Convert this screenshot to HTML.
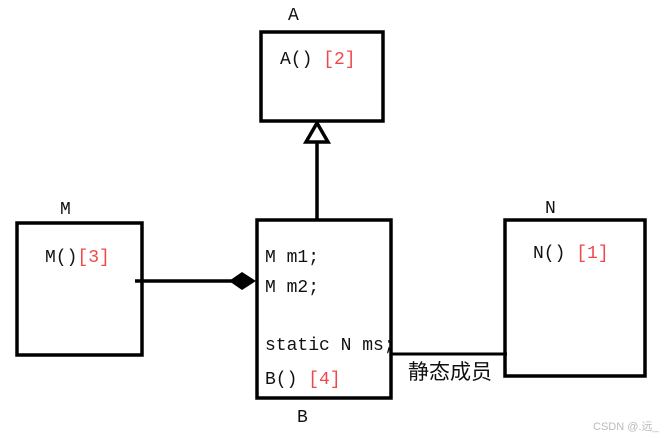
<!DOCTYPE html>
<html><head><meta charset="utf-8"><style>
html,body{margin:0;padding:0;background:#fff;width:670px;height:439px;overflow:hidden}
text{font-family:"Liberation Mono","Noto Sans CJK SC",monospace;font-size:18px;fill:#111}
.r{fill:#f04848}
</style></head><body>
<svg width="670" height="439" viewBox="0 0 670 439" xmlns="http://www.w3.org/2000/svg">
<g fill="none" stroke="#000" stroke-width="3.5">
<rect x="261" y="32" width="122" height="89"/>
<rect x="17" y="223" width="125" height="132"/>
<rect x="257" y="220" width="134" height="178"/>
<rect x="505" y="220" width="140" height="156"/>
<line x1="317" y1="140" x2="317" y2="221"/>
<polygon points="317,123 306,142 328,142" fill="#fff"/>
<line x1="135" y1="281" x2="232" y2="281"/>
<line x1="392" y1="354" x2="507" y2="354" stroke-width="3"/>
</g>
<polygon points="229,281 242,272 256,281 242,290" fill="#000"/>
<text x="288" y="20">A</text>
<text x="280" y="64">A()<tspan class="r"> [2]</tspan></text>
<text x="60" y="214">M</text>
<text x="45" y="262">M()<tspan class="r">[3]</tspan></text>
<text x="545" y="213">N</text>
<text x="533" y="258">N()  <tspan class="r">[1]</tspan></text>
<text x="265" y="262">M m1;</text>
<text x="265" y="292">M m2;</text>
<text x="265" y="350">static N ms;</text>
<text x="265" y="384">B() <tspan class="r">[4]</tspan></text>
<text x="297" y="422">B</text>
<text x="408" y="379" style="font-family:'Noto Sans CJK SC',sans-serif;font-size:21px">静态成员</text>
<text x="593" y="430" style="font-family:'Liberation Sans','Noto Sans CJK SC',sans-serif;font-size:11px;fill:#bbb">CSDN @.远_</text>
</svg>
</body></html>
